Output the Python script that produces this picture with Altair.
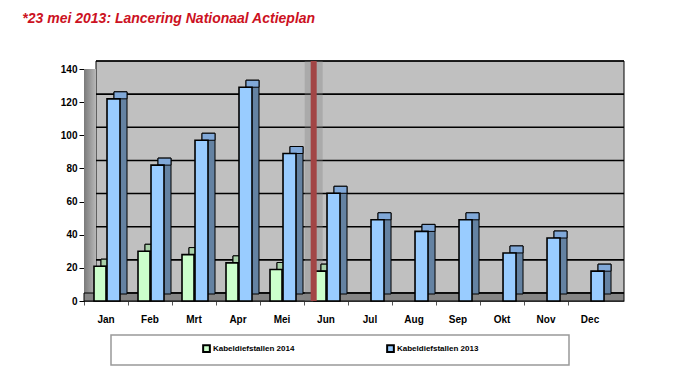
import altair as alt
import pandas as pd

months = ["Jan", "Feb", "Mrt", "Apr", "Mei", "Jun", "Jul", "Aug", "Sep", "Okt", "Nov", "Dec"]
v2014 = [21, 30, 28, 23, 19, 18]
v2013 = [122, 82, 97, 129, 89, 65, 49, 42, 49, 29, 38, 18]
s2014 = "Kabeldiefstallen 2014"
s2013 = "Kabeldiefstallen 2013"
yticks = [0, 20, 40, 60, 80, 100, 120, 140]
title_text = "*23 mei 2013: Lancering Nationaal Actieplan"

W, H, D = 540, 232, 7

rows = [{"month": m, "series": s2014, "value": v} for m, v in zip(months, v2014)]
rows += [{"month": m, "series": s2013, "value": v} for m, v in zip(months, v2013)]
df = pd.DataFrame(rows)
one = alt.Data(values=[{"k": 1}])
ticks_df = pd.DataFrame({"t": yticks})

xscale = alt.Scale(domain=months, paddingInner=0, paddingOuter=0.136, align=0)
yscale = alt.Scale(domain=[0, 140], nice=False)
yaxis = alt.Axis(title=None, values=yticks, grid=False, labelFont="Liberation Sans",
                 labelFontWeight="bold", labelFontSize=10, labelColor="black", labelOverlap=False,
                 tickColor="black", tickSize=5, domainColor="black", labelPadding=2)
xaxis = alt.Axis(title=None, labelAngle=0, labelFont="Liberation Sans", labelFontWeight="bold",
                 labelFontSize=10, labelColor="black", labelPadding=9, tickSize=4,
                 tickColor="#555", domainColor="#555", bandPosition=0)
X = alt.X("month:N", scale=xscale, sort=months, axis=xaxis)
Y = alt.Y("value:Q", scale=yscale, axis=yaxis)

backwall = alt.Chart(one).mark_rect(fill="#c0c0c0", stroke="black", strokeWidth=1).encode(
    x=alt.value(12), x2=alt.value(W), y=alt.value(-8), y2=alt.value(H - 8))
leftwall = alt.Chart(one).mark_rect(
    color=alt.Gradient(gradient="linear", stops=[alt.GradientStop(color="#7a7a7a", offset=0),
                                                 alt.GradientStop(color="#b8b8b8", offset=1)],
                       x1=0, x2=1, y1=0, y2=0)).encode(
    x=alt.value(0), x2=alt.value(12), y=alt.value(0), y2=alt.value(H))
floor = alt.Chart(one).mark_rect(fill="#858585", stroke="black", strokeWidth=1).encode(
    x=alt.value(0), x2=alt.value(W), y=alt.value(H - 8), y2=alt.value(H))
grid = alt.Chart(ticks_df).mark_rule(color="black", strokeWidth=1.6, yOffset=-8).encode(
    y=alt.Y("t:Q", scale=yscale, axis=yaxis), x=alt.value(12), x2=alt.value(W))

def bars(series, front, side, top, off, width):
    d = alt.Chart(df).transform_filter(alt.datum.series == series)
    sidel = d.mark_bar(width=width, xOffset=off + D, x2Offset=off + D, yOffset=-D, y2Offset=-D,
                       fill=side, stroke="black", strokeWidth=1).encode(x=X, y=Y)
    topl = d.mark_bar(width=width, xOffset=off + D, x2Offset=off + D, yOffset=-D, y2Offset=0,
                      fill=top, stroke="black", strokeWidth=1).encode(x=X, y=Y, y2=alt.Y2("value:Q"))
    frontl = d.mark_bar(width=width, xOffset=off, x2Offset=off, stroke="black", strokeWidth=1.6).encode(
        x=X, y=Y,
        color=alt.Color("series:N",
                        scale=alt.Scale(domain=[s2014, s2013], range=["#ccffcc", "#99ccff"]),
                        legend=alt.Legend(title=None, orient="none", legendX=118, legendY=275,
                                          direction="horizontal", columns=2, columnPadding=88,
                                          symbolType="square", symbolSize=45, symbolStrokeColor="black",
                                          symbolStrokeWidth=2, labelFont="Liberation Sans",
                                          labelFontWeight="bold", labelFontSize=8, labelOffset=2,
                                          labelColor="black")))
    return [sidel, topl, frontl]

XR = alt.XDatum("Jun", scale=xscale, bandPosition=0.22, axis=xaxis)
YR = alt.YDatum(0, scale=yscale, axis=yaxis)
shadow = alt.Chart(one).mark_rule(color="#808080", strokeWidth=18, opacity=0.35, y2Offset=-8).encode(
    x=XR, y=YR, y2=alt.Y2Datum(140))
redline = alt.Chart(one).mark_rule(color="#a24545", strokeWidth=6, y2Offset=-8).encode(
    x=XR, y=YR, y2=alt.Y2Datum(140))

legendbox = alt.Chart(one).mark_rect(fill="white", stroke="#999", strokeWidth=1.5).encode(
    x=alt.value(27), x2=alt.value(485), y=alt.value(266), y2=alt.value(296))

layers = [backwall, leftwall, floor, grid, shadow]
layers += bars(s2014, "#ccffcc", "#88b088", "#a8d0a8", -6, 12)
layers += bars(s2013, "#99ccff", "#6482a2", "#80a8d8", 7.5, 13)
layers += [redline, legendbox]

chart = alt.layer(*layers).properties(
    width=W, height=H,
    padding={"left": 14, "top": 4, "right": 5, "bottom": 5},
    title=alt.TitleParams(title_text, anchor="start", dx=-38, offset=26, font="Liberation Sans",
                          fontSize=14, fontStyle="italic", fontWeight="bold", color="#cc1122"),
).configure_view(stroke=None).configure_axisY(values=yticks, labelOverlap=False)

chart.save("out.html", embed_options={"renderer": "svg", "actions": False})
